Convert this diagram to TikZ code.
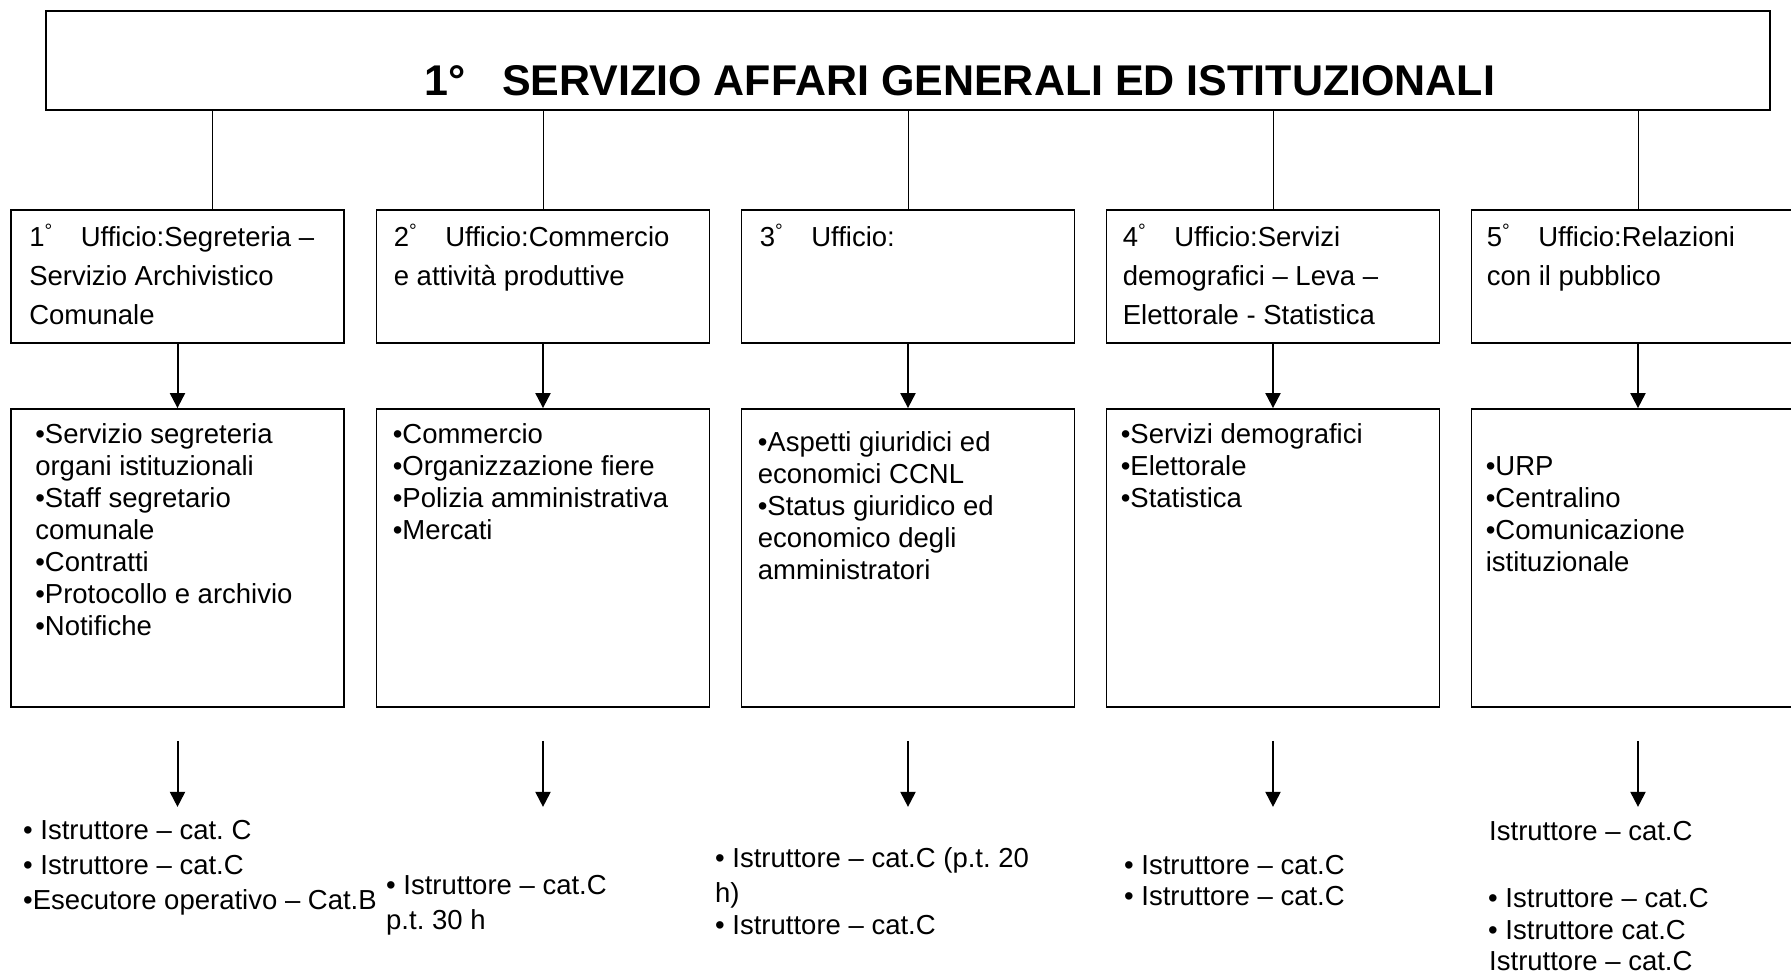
\documentclass[tikz,border=0pt]{standalone}
\usepackage{fontspec}
\setmainfont{Liberation Sans}
\usetikzlibrary{arrows.meta,calc}
\frenchspacing
\tikzset{
  frame/.style={draw=black, line width=1.8pt, rectangle, inner sep=0pt},
  obox/.style={frame, minimum width=333pt, minimum height=133pt},
  lbox/.style={frame, minimum width=333pt, minimum height=298pt},
  txt/.style={inner sep=0pt, align=left, anchor=north west, font=\fontsize{27.5}{32}\selectfont},
  htxt/.style={txt, font=\fontsize{27.5}{39}\selectfont},
  ltxt/.style={inner sep=0pt, anchor=base west, font=\fontsize{27.5}{32}\selectfont},
  link/.style={draw=black, line width=1pt},
  arr/.style={draw=black, line width=2pt, -{Triangle[width=15pt,length=15pt]}},
}
\newcommand{\sdeg}{\textsuperscript{°}}
\begin{document}
\begin{tikzpicture}[x=1pt,y=-1pt]
\clip (0,0) rectangle (1791,977);
\fill[white] (0,0) rectangle (1791,977);

% title
\node[frame, minimum width=1724pt, minimum height=99pt] (t) at (908,60.5) {};
\node[inner sep=0pt, font=\fontsize{43}{50}\selectfont\bfseries] (tt) at (960,81) {1°\hspace{36pt}SERVIZIO AFFARI GENERALI ED ISTITUZIONALI};

% office boxes
\node[obox] (o1) at (177.5,276.5) {};
\node[obox] (o2) at (543,276.5) {};
\node[obox] (o3) at (908,276.5) {};
\node[obox] (o4) at (1273,276.5) {};
\node[obox] (o5) at (1638,276.5) {};

\node[htxt] (o1t) at ($(o1.north west)+(19,15)$) {1\sdeg\hspace{28pt}Ufficio:Segreteria –\\Servizio Archivistico\\Comunale};
\node[htxt] (o2t) at ($(o2.north west)+(18,15)$) {2\sdeg\hspace{28pt}Ufficio:Commercio\\e attività produttive};
\node[htxt] (o3t) at ($(o3.north west)+(19,15)$) {3\sdeg\hspace{28pt}Ufficio:};
\node[htxt] (o4t) at ($(o4.north west)+(17,15)$) {4\sdeg\hspace{28pt}Ufficio:Servizi\\demografici – Leva –\\Elettorale - Statistica};
\node[htxt] (o5t) at ($(o5.north west)+(16,15)$) {5\sdeg\hspace{28pt}Ufficio:Relazioni\\con il pubblico};

% connectors from title
\coordinate (c1) at (212,210);
\draw[link] (c1) -- (c1 |- t.south);
\draw[link] (o2.north) -- (o2.north |- t.south);
\draw[link] (o3.north) -- (o3.north |- t.south);
\draw[link] (o4.north) -- (o4.north |- t.south);
\draw[link] (o5.north) -- (o5.north |- t.south);

% detail boxes
\node[lbox] (d1) at (177.5,558) {};
\node[lbox] (d2) at (543,558) {};
\node[lbox] (d3) at (908,558) {};
\node[lbox] (d4) at (1273,558) {};
\node[lbox] (d5) at (1638,558) {};

\node[txt] (d1t) at ($(d1.north west)+(25,15)$) {•Servizio segreteria\\organi istituzionali\\•Staff segretario\\comunale\\•Contratti\\•Protocollo e archivio\\•Notifiche};
\node[txt] (d2t) at ($(d2.north west)+(17,15)$) {•Commercio\\•Organizzazione fiere\\•Polizia amministrativa\\•Mercati};
\node[txt] (d3t) at ($(d3.north west)+(17,23)$) {•Aspetti giuridici ed\\economici CCNL\\•Status giuridico ed\\economico degli\\amministratori};
\node[txt] (d4t) at ($(d4.north west)+(15,15)$) {•Servizi demografici\\•Elettorale\\•Statistica};
\node[txt] (d5t) at ($(d5.north west)+(15,48)$) {•URP\\•Centralino\\•Comunicazione\\istituzionale};

\foreach \i in {1,...,5} {
  \draw[arr] (o\i.south) -- (d\i.north);
  \coordinate (a\i) at ($(d\i.south)+(0,33)$);
  \coordinate (b\i) at ($(d\i.south)+(0,99)$);
  \draw[arr] (a\i) -- (b\i);
}

% staff lines
\node[ltxt] (s11) at (23,839) {• Istruttore – cat. C};
\node[ltxt] (s12) at (23,874) {• Istruttore – cat.C};
\node[ltxt] (s13) at (23,909) {•Esecutore operativo – Cat.B};
\node[ltxt] (s21) at (386,894) {• Istruttore – cat.C};
\node[ltxt] (s22) at (386,929) {p.t. 30 h};
\node[ltxt] (s31) at (715,867) {• Istruttore – cat.C (p.t. 20};
\node[ltxt] (s32) at (715,902) {h)};
\node[ltxt] (s33) at (715,934) {• Istruttore – cat.C};
\node[ltxt] (s41) at (1124,874) {• Istruttore – cat.C};
\node[ltxt] (s42) at (1124,905) {• Istruttore – cat.C};
\node[ltxt] (s51) at (1489,840) {Istruttore – cat.C};
\node[ltxt] (s52) at (1488,907) {• Istruttore – cat.C};
\node[ltxt] (s53) at (1488,939) {• Istruttore cat.C};
\node[ltxt] (s54) at (1489,970) {Istruttore – cat.C};
\end{tikzpicture}
\end{document}
